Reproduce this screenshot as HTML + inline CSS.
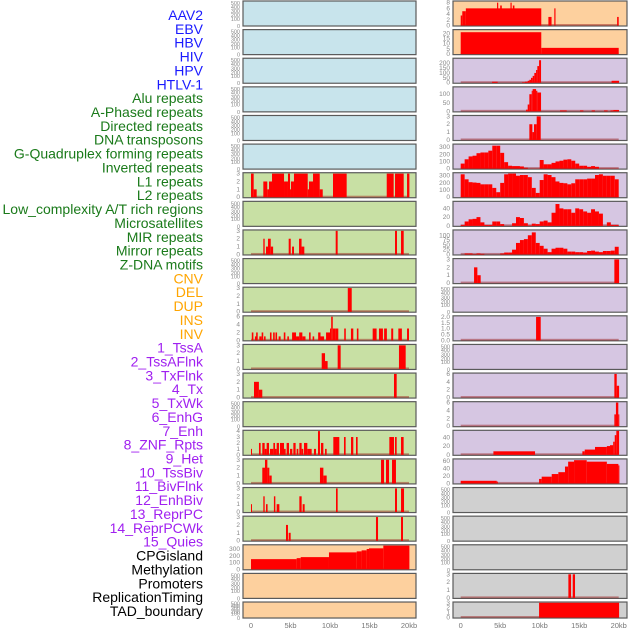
<!DOCTYPE html>
<html><head><meta charset="utf-8">
<style>
html,body{margin:0;padding:0;background:#fff;}
svg{display:block;font-family:"Liberation Sans",sans-serif;}
</style></head>
<body>
<svg id="chart" width="630" height="630" viewBox="0 0 630 630" xmlns="http://www.w3.org/2000/svg"></svg>
<script>
// ---------- data ----------
const trackLabels = ["AAV2","EBV","HBV","HIV","HPV","HTLV-1","Alu repeats","A-Phased repeats","Directed repeats","DNA transposons","G-Quadruplex forming repeats","Inverted repeats","L1 repeats","L2 repeats","Low_complexity A/T rich regions","Microsatellites","MIR repeats","Mirror repeats","Z-DNA motifs","CNV","DEL","DUP","INS","INV","1_TssA","2_TssAFlnk","3_TxFlnk","4_Tx","5_TxWk","6_EnhG","7_Enh","8_ZNF_Rpts","9_Het","10_TssBiv","11_BivFlnk","12_EnhBiv","13_ReprPC","14_ReprPCWk","15_Quies","CPGisland","Methylation","Promoters","ReplicationTiming","TAD_boundary"];
const labelGroups = ["virus","virus","virus","virus","virus","virus","rep","rep","rep","rep","rep","rep","rep","rep","rep","rep","rep","rep","rep","sv","sv","sv","sv","sv","cs","cs","cs","cs","cs","cs","cs","cs","cs","cs","cs","cs","cs","cs","cs","other","other","other","other","other"];
const xTickLabels = ["0","5kb","10kb","15kb","20kb"];
const xTickValues = [0,5,10,15,20];
const emptyTicks = [0,100,200,300,400,500];

// left column segments [startKb, endKb, value]
const leftL1 = [[0,0.34,3],[0.34,0.72,1],[1.56,2.06,2],[2.06,2.28,1],[2.28,2.66,2],[2.66,4.18,3],[4.18,4.68,2],[4.68,4.94,3],[4.94,5.06,1],[5.06,5.44,2],[5.44,7.18,3],[7.18,7.34,1],[7.34,7.85,2],[7.85,8.7,3],[8.7,9.08,1],[10.38,12.11,3],[17.18,18.06,3],[18.23,19.33,3],[19.75,20.05,3]];
const leftMIR = [[1.56,1.73,2],[1.9,2.15,1],[2.15,2.5,2],[2.5,2.8,1],[4.77,5.03,2],[5.2,5.44,1],[6.08,6.4,2],[6.4,6.75,1],[10.72,10.97,3],[18.23,18.48,3],[18.99,19.33,3]];
const leftDNA = [[12.25,12.75,3]];
const leftINS = [[0.1,0.3,2],[0.5,0.7,1],[0.65,0.85,2],[1.05,1.35,1],[1.35,1.55,2],[1.65,1.85,1],[2.4,2.6,2],[2.8,3.0,2],[3.1,3.3,2],[3.5,3.75,1],[4.15,4.35,2],[4.6,4.8,1],[5.2,5.7,2],[5.7,6.1,1],[6.1,6.5,2],[6.5,6.9,1],[7.35,7.55,2],[7.8,8.0,1],[8.5,8.8,2],[8.8,9.25,1],[9.5,10.0,2],[10.0,10.15,3],[10.15,10.35,6],[10.35,10.65,3],[10.65,11.05,3],[11.8,12.0,3],[12.65,12.95,3],[13.4,13.6,3],[15.4,15.9,3],[16.2,16.7,3],[16.85,17.2,3],[17.75,18.0,3],[18.65,19.1,3],[19.75,20.0,3]];
const leftR13 = [[8.95,9.37,2],[9.37,9.7,1],[10.97,11.35,3],[18.73,19.58,3]];
const leftR14 = [[0.38,1.0,2],[1.0,1.43,1],[18.1,18.44,3]];
const leftR16 = [[0,0.1,1],[1.01,1.22,2],[1.43,1.73,2],[1.73,1.98,1],[1.98,2.28,2],[2.4,2.83,1],[2.83,3.04,2],[3.04,3.25,1],[3.25,3.54,2],[3.67,4.18,2],[4.18,4.39,1],[4.51,4.81,2],[4.94,5.23,1],[5.36,5.65,2],[5.78,5.99,1],[6.12,6.41,2],[6.41,6.62,1],[6.71,7.13,2],[7.13,7.68,1],[7.97,8.23,1],[8.48,8.73,4],[8.86,9.16,2],[9.37,9.58,1],[10.42,11.18,3],[11.77,11.98,3],[12.66,12.95,3],[13.29,13.5,3],[17.51,18.1,3],[18.23,18.44,3],[18.99,19.32,3]];
const leftR17 = [[1.43,1.77,2],[1.77,2.07,3],[2.07,2.32,2],[2.32,2.62,1],[8.73,9.16,2],[9.16,9.58,1],[16.46,16.84,3],[17.09,17.47,3],[17.85,18.35,3]];
const leftR18 = [[0,0.1,1],[1.56,1.73,2],[1.9,2.1,1],[2.9,3.08,2],[3.25,3.59,1],[6.12,6.41,2],[6.54,6.79,1],[10.76,10.97,3],[18.23,18.48,3],[18.99,19.37,3]];
const leftR19 = [[4.43,4.68,2],[4.77,5.02,1],[15.82,16.08,3],[18.99,19.24,3]];
const leftCpG = [[0,5.78,150],[5.78,6.29,165],[6.29,9.87,180],[9.87,13.38,250],[13.38,14.0,265],[14.0,14.64,280],[14.64,14.94,300],[14.94,16.75,310],[16.75,20.05,350]];

// right column
const rightR1 = [[0,0.2,3.5],[0.2,0.65,5],[0.65,10.2,6],[4.6,4.75,8],[5.0,5.2,7],[6.3,6.45,8],[6.6,6.8,7],[11.1,11.5,3],[11.85,12.0,6],[19.8,20.0,3]];
const rightR2 = [[0,10.2,21],[10.2,20,6]];
const rightR3 = [[3.97,4.68,10],[7.76,8.14,5],[8.14,8.48,10],[8.48,8.69,20],[8.69,8.9,30],[8.9,9.11,50],[9.11,9.32,70],[9.32,9.54,100],[9.54,9.7,130],[9.7,9.92,170],[9.92,10.17,230],[19.1,20.05,20]];
const rightR4 = [[8.27,8.48,10],[8.48,8.69,40],[8.69,8.99,100],[8.99,9.11,120],[9.11,9.54,130],[9.54,9.7,120],[9.7,10.17,110],[12.57,13.42,5],[15.1,15.53,5],[16.58,17.0,5],[18.14,18.6,5],[18.95,19.32,5],[19.32,20.05,8]];
const rightR5 = [[8.69,9.07,2],[9.07,9.28,1],[9.28,9.62,2],[9.62,10.13,3]];
const binSizeKb = 0.5;
const rightR6Bins = [70,130,170,180,215,225,225,250,320,320,220,90,40,35,35,30,12,2,2,2,120,60,60,80,100,110,125,130,110,70,40,40,25,35,25,2,2,2,2,2];
const rightR7Bins = [320,250,210,205,200,180,180,180,130,70,200,320,330,330,300,310,310,280,130,60,240,320,310,280,220,200,195,180,195,250,250,250,260,260,310,320,300,300,300,250];
const rightR8Bins = [2,10,15,16,20,8,2,2,10,10,4,0,0,6,20,18,6,1,5,4,10,12,8,30,50,40,38,38,30,40,38,33,30,38,33,28,0,8,2,2];
const rightR9Bins = [0,5,5,2,5,3,0,0,0,0,5,10,10,25,60,75,80,100,115,60,45,30,12,30,35,35,30,15,15,12,12,10,18,20,15,12,18,18,20,40];
const rightR10 = [[1.69,2.11,2],[2.11,2.53,1],[19.45,20.05,3]];
const rightR12 = [[9.54,10.13,2]];
const rightR14 = [[19.45,19.75,6],[19.75,20.05,3]];
const rightR15 = [[19.45,19.65,3],[19.65,19.95,6],[19.95,20.05,3]];
const rightR16 = [[4.14,9.41,8],[15.4,15.7,8],[15.7,17.0,12],[17.0,18.5,18],[18.5,18.9,20],[18.9,19.3,22],[19.3,19.5,30],[19.5,19.7,45],[19.7,20.05,55]];
const rightR17 = [[0,4.56,7],[4.56,4.7,5],[9.92,10.25,12],[10.25,11.52,18],[11.52,12.36,25],[12.36,13.2,30],[13.2,13.6,45],[13.6,14.35,58],[14.35,15.95,62],[15.95,18.5,58],[18.5,19.96,52],[19.96,20.05,48]];
const rightR21 = [[13.63,13.97,3],[14.18,14.47,3]];
const rightR22 = [[9.92,20.05,3]];

// panel specs: [series, yMax, tick labels]
const leftPanels = [
 [null],[null],[null],[null],[null],[null],
 [leftL1,3.05,[0,1,2,3]],[null],[leftMIR,3.05,[0,1,2,3]],[null],[leftDNA,3.05,[0,1,2,3]],
 [leftINS,6.1,[0,2,4,6]],[leftR13,3.05,[0,1,2,3]],[leftR14,3.05,[0,1,2,3]],[null],
 [leftR16,4.05,[0,1,2,3,4]],[leftR17,3.05,[0,1,2,3]],[leftR18,3.05,[0,1,2,3]],[leftR19,3.05,[0,1,2,3]],
 [leftCpG,355,[0,100,200,300]],[null],[null]];
const rightPanels = [
 [rightR1,8.4,[0,2,4,6,8]],[rightR2,23,[0,5,10,15,20]],[rightR3,245,[0,50,100,150,200]],[rightR4,140,[0,50,100]],
 [rightR5,3.05,[0,1,2,3]],[rightR6Bins,335,[0,100,200,300]],[rightR7Bins,335,[0,100,200,300]],
 [rightR8Bins,55,[0,20,40]],[rightR9Bins,125,[0,25,50,75,100]],[rightR10,3.05,[0,1,2,3]],[null],
 [rightR12,2.05,["0.0","0.5","1.0","1.5","2.0"]],[null],[rightR14,6.1,[0,2,4,6]],[rightR15,6.1,[0,2,4,6]],
 [rightR16,55,[0,20,40]],[rightR17,64,[0,20,40,60]],[null],[null],[null],[rightR21,3.05,[0,1,2,3]],[rightR22,3.05,[0,1,2,3]]];
const leftColors = ["#c8e4ec","#c8e4ec","#c8e4ec","#c8e4ec","#c8e4ec","#c8e4ec","#c8e0a4","#c8e0a4","#c8e0a4","#c8e0a4","#c8e0a4","#c8e0a4","#c8e0a4","#c8e0a4","#c8e0a4","#c8e0a4","#c8e0a4","#c8e0a4","#c8e0a4","#fdd09e","#fdd09e","#fdd09e"];
const rightColors = ["#fdd09e","#fdd09e","#d6c6e2","#d6c6e2","#d6c6e2","#d6c6e2","#d6c6e2","#d6c6e2","#d6c6e2","#d6c6e2","#d6c6e2","#d6c6e2","#d6c6e2","#d6c6e2","#d6c6e2","#d6c6e2","#d6c6e2","#d0d0d0","#d0d0d0","#d0d0d0","#d0d0d0","#d0d0d0"];

// ---------- drawing ----------
const NS = "http://www.w3.org/2000/svg";
const svg = document.getElementById("chart");
function mk(tag, attrs, parent){ const e=document.createElementNS(NS,tag); for(const k in attrs) e.setAttribute(k,attrs[k]); (parent||svg).appendChild(e); return e; }
const groupColor = {virus:"#1a1aff",rep:"#1a7a1a",sv:"#ffa500",cs:"#a020f0",other:"#000"};

trackLabels.forEach((t,i)=>{
  const e = mk("text",{x:203,y:15+13.86*i+5,"text-anchor":"end","font-size":"14",fill:groupColor[labelGroups[i]]});
  e.textContent = t;
  
  
});

const cols = [
  {box0:243,box1:416,x0:251,panels:leftPanels,colors:leftColors,name:"left"},
  {box0:453,box1:627,x0:460.7,panels:rightPanels,colors:rightColors,name:"right"}];
const pxPerKb = 7.9;
const emptyFrac = [0,0.3,0.45,0.62,0.8,0.96];

cols.forEach(c=>{
  const xs = kb => c.x0 + kb*pxPerKb;
  c.panels.forEach((p,i)=>{
    const top = 1 + 28.62*i;
    const h = (i===21) ? 16 : 25;
    const bot = top+h;
    const g = mk("g",{});
    
    
    mk("rect",{x:c.box0,y:top,width:c.box1-c.box0,height:h,fill:c.colors[i],stroke:"#5a5a5a","stroke-width":1.2},g);
    const ys = v => bot - 0.5 - (v/(p[1]||1))*(h-1);
    if(!p[0]){
      emptyTicks.forEach((t,k)=>{
        const tt = mk("text",{x:c.box0-3,y:bot-emptyFrac[k]*(h-1)+2,"text-anchor":"end","font-size":"5.5",fill:"#888"},g);
        tt.textContent=t;
      });
      return;
    }
    p[2].forEach(t=>{
      const tt = mk("text",{x:c.box0-3,y:ys(parseFloat(t))+2,"text-anchor":"end","font-size":"6.5",fill:"#888"},g);
      tt.textContent=t;
    });
    mk("rect",{x:xs(0),y:bot-2,width:xs(20)-xs(0),height:1.8,fill:"rgba(150,20,20,0.45)"},g);
    let segs = p[0];
    if(typeof segs[0]==="number") segs = segs.map((v,k)=>[k*binSizeKb,(k+1)*binSizeKb,v]);
    segs.forEach(s=>{
      if(s[2]<=0) return;
      const r = mk("rect",{x:xs(s[0]),y:ys(s[2]),width:Math.max(1,xs(s[1])-xs(s[0])),height:bot-ys(s[2])-0.5,fill:"#ff0000"},g);
      
      
    });
  });
  xTickValues.forEach((v,k)=>{
    const t = mk("text",{x:xs(v),y:628,"text-anchor":"middle","font-size":"7.5",fill:"#777"});
    t.textContent = xTickLabels[k];
    
    
  });
});
</script>
</body></html>
